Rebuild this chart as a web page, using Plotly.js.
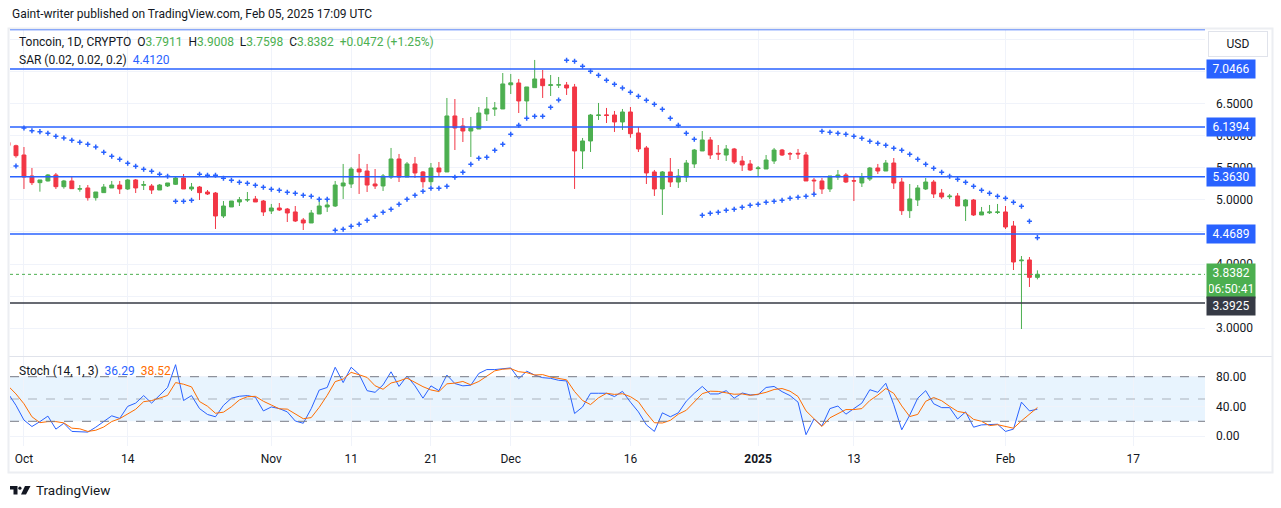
<!DOCTYPE html>
<html><head><meta charset="utf-8">
<script src="https://cdn.plot.ly/plotly-3.0.1.min.js"></script>
<style>html,body{margin:0;padding:0;background:#fff}#chart{width:1281px;height:508px}</style>
</head><body><div id="chart"></div>
<script>
// ---------- DATA ----------
const startDate = '2024-09-29';
const opens = [5.90,5.848,5.703,5.375,5.271,5.297,5.391,5.208,5.297,5.170,5.188,5.036,5.115,5.188,5.234,5.172,5.313,5.230,5.219,5.156,5.219,5.245,5.344,5.172,5.203,5.125,5.109,4.750,4.891,4.969,5.000,5.016,4.984,4.828,4.875,4.859,4.813,4.688,4.641,4.781,4.891,4.906,5.219,5.250,5.484,5.453,5.250,5.219,5.359,5.641,5.359,5.563,5.438,5.286,5.500,5.438,6.313,6.156,6.078,6.109,6.344,6.420,6.422,6.800,6.828,6.547,6.755,6.891,6.790,6.795,6.797,6.766,5.766,5.922,6.320,6.330,6.328,6.219,6.375,6.047,5.813,5.438,5.172,5.438,5.281,5.359,5.563,5.766,5.938,5.730,5.703,5.797,5.609,5.563,5.490,5.484,5.609,5.781,5.725,5.730,5.703,5.310,5.297,5.172,5.359,5.391,5.300,5.266,5.328,5.500,5.453,5.578,5.281,4.833,5.000,5.172,5.281,5.109,5.050,5.063,4.906,5.000,4.766,4.800,4.805,4.813,4.594,4.050,4.063,3.7911];
const highs = [5.95,5.864,5.828,5.500,5.313,5.406,5.422,5.313,5.375,5.234,5.234,5.125,5.250,5.297,5.297,5.328,5.328,5.297,5.250,5.250,5.266,5.359,5.406,5.266,5.219,5.156,5.125,4.984,4.984,5.047,5.125,5.063,5.000,4.938,4.953,4.875,4.906,4.719,4.844,5.016,5.016,5.297,5.563,5.516,5.719,5.563,5.484,5.406,5.813,5.719,5.594,5.672,5.453,5.578,5.594,6.594,6.578,6.281,6.297,6.453,6.609,6.531,6.984,6.969,6.891,6.766,7.188,7.031,6.953,6.922,6.844,6.813,5.969,6.344,6.516,6.438,6.391,6.422,6.453,6.141,5.844,5.469,5.453,5.656,5.484,5.625,5.797,6.078,5.984,5.859,5.859,5.813,5.688,5.625,5.531,5.703,5.813,5.797,5.750,5.797,5.750,5.344,5.344,5.375,5.469,5.422,5.359,5.422,5.516,5.563,5.625,5.656,5.344,5.250,5.234,5.344,5.313,5.172,5.094,5.109,5.016,5.016,4.891,4.922,4.938,4.906,4.672,4.125,4.109,3.9008];
const lows = [5.83,5.661,5.172,5.234,5.130,5.290,5.172,5.177,5.177,5.130,4.990,4.990,5.115,5.188,5.094,5.156,5.109,5.156,5.094,5.156,5.203,5.234,5.172,5.141,5.000,5.078,4.547,4.719,4.891,4.906,4.969,4.969,4.750,4.781,4.828,4.656,4.656,4.531,4.641,4.781,4.813,4.891,5.016,5.188,5.094,5.125,5.172,5.141,5.328,5.281,5.359,5.344,5.192,5.224,5.375,5.438,5.781,5.906,5.672,6.109,6.234,6.313,6.422,6.656,6.359,6.313,6.755,6.594,6.625,6.750,6.641,5.172,5.484,5.750,6.250,6.203,6.063,6.094,5.973,5.750,5.250,5.063,4.766,5.203,5.188,5.281,5.500,5.766,5.641,5.625,5.609,5.563,5.453,5.453,5.375,5.484,5.563,5.688,5.625,5.641,5.297,5.094,5.094,5.125,5.313,5.266,4.984,5.203,5.297,5.406,5.453,5.172,4.766,4.719,4.906,5.156,5.031,5.016,5.016,4.906,4.672,4.750,4.766,4.781,4.781,4.547,3.906,2.984,3.641,3.7598];
const closes = [5.85,5.692,5.359,5.271,5.313,5.391,5.208,5.297,5.177,5.175,5.036,5.125,5.203,5.234,5.172,5.313,5.188,5.240,5.156,5.234,5.266,5.344,5.172,5.203,5.115,5.094,4.750,4.906,4.984,5.005,5.005,4.969,4.813,4.875,4.844,4.797,4.672,4.641,4.797,4.906,4.922,5.234,5.266,5.484,5.438,5.234,5.219,5.375,5.641,5.359,5.563,5.422,5.286,5.500,5.438,6.313,6.125,6.078,6.125,6.359,6.422,6.435,6.813,6.830,6.547,6.766,6.891,6.786,6.800,6.800,6.750,5.766,5.922,6.328,6.328,6.320,6.219,6.375,6.036,5.797,5.422,5.172,5.438,5.281,5.375,5.578,5.781,5.938,5.703,5.719,5.797,5.594,5.547,5.469,5.500,5.625,5.781,5.703,5.720,5.720,5.297,5.300,5.172,5.375,5.391,5.281,5.297,5.359,5.500,5.453,5.578,5.266,4.833,5.016,5.188,5.281,5.094,5.047,5.060,4.906,5.000,4.766,4.813,4.813,4.813,4.578,4.031,4.060,3.7911,3.8382];
const sar = [null,5.531,6.125,6.083,6.068,6.042,5.995,5.969,5.932,5.901,5.870,5.828,5.745,5.682,5.635,5.573,5.526,5.479,5.448,5.401,5.370,4.979,4.979,4.995,5.401,5.385,5.385,5.339,5.307,5.276,5.260,5.229,5.198,5.167,5.151,5.120,5.104,5.073,5.057,5.010,5.010,4.526,4.542,4.589,4.620,4.682,4.745,4.807,4.854,4.932,5.010,5.073,5.135,5.182,5.182,5.214,5.354,5.432,5.557,5.651,5.667,5.776,5.870,6.026,6.167,6.276,6.307,6.307,6.448,6.563,7.183,7.167,7.089,7.011,6.948,6.870,6.808,6.750,6.683,6.620,6.558,6.495,6.417,6.276,6.167,6.042,5.948,4.760,4.792,4.807,4.839,4.854,4.886,4.917,4.932,4.964,4.979,4.995,5.026,5.042,5.057,5.089,6.073,6.057,6.042,6.026,5.995,5.964,5.917,5.886,5.854,5.807,5.776,5.714,5.636,5.557,5.495,5.432,5.370,5.323,5.276,5.214,5.151,5.104,5.057,5.026,4.964,4.901,4.667,4.412];
const stochK = [57.7,41.5,21.7,13.0,19.6,27.0,9.5,17.4,6.4,6.4,5.5,12.1,19.6,27.4,23.9,40.1,44.5,54.6,44.5,54.6,65.5,96.2,48.0,54.6,37.1,29.2,26.1,41.5,51.1,53.7,54.6,52.4,34.0,39.3,37.1,32.7,20.4,17.4,37.1,62.0,65.5,92.7,72.1,92.7,83.1,61.2,59.0,69.0,86.6,66.9,80.9,67.7,51.1,67.7,61.2,82.2,70.8,67.7,68.6,84.4,89.6,89.6,91.0,91.8,77.4,87.4,82.2,78.7,77.8,75.2,74.3,30.5,39.3,57.7,57.7,57.7,53.3,60.3,45.8,32.7,15.2,6.4,31.4,26.1,31.4,47.1,57.7,66.9,56.8,56.8,61.2,51.1,58.1,55.5,55.9,65.5,66.9,59.9,54.6,45.8,2.0,23.1,13.9,37.1,40.6,29.6,37.1,44.5,62.5,59.0,71.2,42.3,8.6,28.3,51.1,61.2,43.6,38.4,38.4,23.1,32.7,12.1,15.2,15.2,16.1,6.4,9.5,45.8,34.0,36.29];
const stochD = [67.7,56.8,43.6,26.1,18.2,19.6,19.6,17.9,10.8,9.9,6.4,8.0,12.4,19.7,23.6,30.5,36.2,46.4,47.9,51.2,54.9,72.1,69.9,66.3,46.6,40.3,30.8,32.3,39.6,48.8,53.1,53.6,47.0,41.9,36.8,36.4,30.1,23.5,25.0,38.8,54.9,73.4,76.8,85.8,82.6,79.0,67.8,63.1,71.5,74.2,78.1,71.8,66.6,62.2,60.0,70.4,71.4,73.6,69.0,73.6,80.9,87.9,90.1,90.8,86.7,85.5,82.3,82.8,79.6,77.2,75.8,60.0,48.0,42.5,51.6,57.7,56.2,57.1,53.1,46.3,31.2,18.1,17.7,21.3,29.6,34.9,45.4,57.2,60.5,60.2,58.3,56.4,56.8,54.9,56.5,59.0,62.8,64.1,60.5,53.4,34.1,23.6,13.0,24.7,30.5,35.8,35.8,37.1,48.0,55.3,64.2,57.5,40.7,26.4,29.3,46.9,52.0,47.7,40.1,33.3,31.4,22.6,20.0,14.2,15.5,12.6,10.7,20.6,29.8,38.52];
const blueLevels = [7.0466, 6.1394, 5.3630, 4.4689];
const supportLevel = 3.3925;
const lastPrice = 3.8382;
const countdown = '06:50:41';
const priceGrid = [3.0,3.5,4.0,4.5,5.0,5.5,6.0,6.5,7.0,7.5];
const priceTickLabels = ['3.0000','','4.0000','','5.0000','5.5000','6.0000','6.5000','',''];
const stochTicks = [0, 40, 80];
const stochBands = [20, 50, 80];
const tickDates = ['2024-10-01','2024-10-14','2024-11-01','2024-11-11','2024-11-21','2024-12-01','2024-12-16','2025-01-01','2025-01-13','2025-02-01','2025-02-17'];
const tickLabels = ['Oct','14','Nov','11','21','Dec','16','<b>2025</b>','13','Feb','17'];
const headerOHLC = {O:'3.7911', H:'3.9008', L:'3.7598', C:'3.8382', chg:'+0.0472 (+1.25%)'};
const sarLast = '4.4120';
const kLast = '36.29', dLast = '38.52';

// ---------- BUILD ----------
function addDays(s, n){const d=new Date(s+'T00:00:00Z'); d.setUTCDate(d.getUTCDate()+n); return d.toISOString().slice(0,10);}
const dates = opens.map((_, i) => addDays(startDate, i));

const W = 1281, H = 508;
const px = x => x / W;
const py = y => (H - y) / H;
const FONT = 'Roboto, "Noto Sans", sans-serif';
const TXT = '#131722';
const BLUE = '#2962ff', GREEN = '#4caf50', RED = '#f23645', ORANGE = '#ff6d00';

const traces = [
  {type:'candlestick', x:dates, open:opens, high:highs, low:lows, close:closes, xaxis:'x', yaxis:'y',
   increasing:{line:{color:GREEN,width:1}, fillcolor:GREEN},
   decreasing:{line:{color:RED,width:1}, fillcolor:RED}, whiskerwidth:0, hoverinfo:'skip'},
  {type:'scatter', mode:'markers', x:dates, y:sar, xaxis:'x', yaxis:'y',
   marker:{symbol:'cross-thin', size:3.6, color:BLUE, line:{color:BLUE, width:1.5}}, hoverinfo:'skip'},
  {type:'scatter', mode:'lines', x:dates, y:stochK, xaxis:'x', yaxis:'y2', line:{color:BLUE, width:1}, hoverinfo:'skip'},
  {type:'scatter', mode:'lines', x:dates, y:stochD, xaxis:'x', yaxis:'y2', line:{color:ORANGE, width:1}, hoverinfo:'skip'}
];

const shapes = [];
shapes.push({type:'rect', xref:'x domain', yref:'y2', x0:0, x1:1, y0:stochBands[0], y1:stochBands[2], fillcolor:'rgba(33,150,243,0.1)', line:{width:0}, layer:'below'});
stochBands.forEach((v,i)=>shapes.push({type:'line', xref:'x domain', yref:'y2', x0:0, x1:1, y0:v, y1:v,
  line:{color: i===1 ? 'rgba(120,123,134,0.55)' : '#787b86', width:1, dash:'dash'}}));
blueLevels.forEach(v=>shapes.push({type:'line', xref:'x domain', yref:'y', x0:0, x1:1, y0:v, y1:v, line:{color:BLUE, width:1.5}}));
shapes.push({type:'line', xref:'x domain', yref:'y', x0:0, x1:1, y0:supportLevel, y1:supportLevel, line:{color:'#363a45', width:1.5}});
shapes.push({type:'line', xref:'x domain', yref:'y', x0:0, x1:1, y0:lastPrice, y1:lastPrice, line:{color:GREEN, width:1, dash:'dot'}});
shapes.push({type:'line', xref:'paper', yref:'paper', x0:px(10), x1:px(1205), y0:py(29.5), y1:py(29.5), line:{color:BLUE, width:1.5}});
shapes.push({type:'line', xref:'paper', yref:'paper', x0:px(9), x1:px(1272), y0:py(356.5), y1:py(356.5), line:{color:'#e0e3eb', width:1}});
shapes.push({type:'rect', xref:'paper', yref:'paper', x0:px(8.5), x1:px(1272.5), y0:py(472.5), y1:py(28.5), line:{color:'#eceef2', width:2}, fillcolor:'rgba(0,0,0,0)'});
shapes.push({type:'path', xref:'paper', yref:'paper', fillcolor:TXT, line:{width:0},
  path:`M ${px(10)} ${py(486)} L ${px(17.5)} ${py(486)} L ${px(17.5)} ${py(494.5)} L ${px(13.5)} ${py(494.5)} L ${px(13.5)} ${py(489.5)} L ${px(10)} ${py(489.5)} Z`});
shapes.push({type:'circle', xref:'paper', yref:'paper', fillcolor:TXT, line:{width:0}, x0:px(18.3), x1:px(21.5), y0:py(489.8), y1:py(486.6)});
shapes.push({type:'path', xref:'paper', yref:'paper', fillcolor:TXT, line:{width:0},
  path:`M ${px(25)} ${py(486)} L ${px(30.5)} ${py(486)} L ${px(26)} ${py(494.5)} L ${px(21)} ${py(494.5)} Z`});

const badge = (v, text, bg, shift) => ({xref:'paper', yref:'y', x:px(1206), y:v, xanchor:'left', yanchor:'middle', yshift:shift||0,
  text:text, showarrow:false, bgcolor:bg, borderpad:2, width:44, align:'center', font:{family:FONT, size:12, color:'#ffffff'}});

const annotations = [
  {xref:'paper', yref:'paper', x:px(10), y:py(14), xanchor:'left', yanchor:'middle', showarrow:false,
   text:'Gaint-writer published on TradingView.com, Feb 05, 2025 17:09 UTC', font:{family:FONT, size:12, color:TXT}},
  {xref:'paper', yref:'paper', x:px(17), y:py(42), xanchor:'left', yanchor:'middle', showarrow:false,
   text:`Toncoin, 1D, CRYPTO  O<span style="color:${GREEN}">${headerOHLC.O}</span>  H<span style="color:${GREEN}">${headerOHLC.H}</span>  L<span style="color:${GREEN}">${headerOHLC.L}</span>  C<span style="color:${GREEN}">${headerOHLC.C}</span>  <span style="color:${GREEN}">${headerOHLC.chg}</span>`,
   font:{family:FONT, size:12, color:TXT}},
  {xref:'paper', yref:'paper', x:px(17), y:py(60), xanchor:'left', yanchor:'middle', showarrow:false,
   text:`SAR (0.02, 0.02, 0.2)  <span style="color:${BLUE}">${sarLast}</span>`, font:{family:FONT, size:12, color:TXT}},
  {xref:'paper', yref:'paper', x:px(17), y:py(371), xanchor:'left', yanchor:'middle', showarrow:false,
   text:`Stoch (14, 1, 3)  <span style="color:${BLUE}">${kLast}</span>  <span style="color:${ORANGE}">${dLast}</span>`, font:{family:FONT, size:12, color:TXT}},
  {xref:'paper', yref:'paper', x:px(1238), y:py(44.5), xanchor:'center', yanchor:'middle', showarrow:false,
   text:'USD', bgcolor:'#ffffff', bordercolor:'#e0e3eb', borderwidth:1, borderpad:4, width:50, height:16, font:{family:FONT, size:12, color:TXT}},
  {xref:'paper', yref:'paper', x:px(34), y:py(490), xanchor:'left', yanchor:'middle', showarrow:false,
   text:'TradingView', font:{family:FONT, size:13.5, color:TXT}}
];
blueLevels.forEach(v=>annotations.push(badge(v, v.toFixed(4), BLUE)));
annotations.push(badge(lastPrice, lastPrice.toFixed(4)+'<br>'+countdown, GREEN, -7));
annotations.push(badge(supportLevel, supportLevel.toFixed(4), '#363a45', -3));

const layout = {
  width:W, height:H, margin:{l:0,r:0,t:0,b:0}, paper_bgcolor:'#ffffff', plot_bgcolor:'#ffffff',
  showlegend:false, font:{family:FONT, size:12, color:TXT}, dragmode:false,
  xaxis:{domain:[px(10), px(1205)], anchor:'y2', type:'date', range:['2024-09-29 06:00','2025-02-26 00:00'],
    rangeslider:{visible:false}, tickvals:tickDates, ticktext:tickLabels, ticks:'', showgrid:true, gridcolor:'#f0f3fa',
    zeroline:false, showline:false, tickfont:{family:FONT, size:12, color:TXT}, ticklabelstandoff:4},
  yaxis:{domain:[py(356), py(30)], anchor:'x', side:'right', range:[2.5625, 7.656], tickvals:priceGrid,
    ticktext:priceTickLabels, showgrid:true, gridcolor:'#f0f3fa', zeroline:false, ticks:'',
    tickfont:{family:FONT, size:12, color:TXT}, ticklabelstandoff:10},
  yaxis2:{domain:[py(446), py(357)], anchor:'x', side:'right', range:[-13.2, 106.5], tickvals:stochTicks,
    ticktext:stochTicks.map(v=>v.toFixed(2)), showgrid:true, gridcolor:'#f0f3fa', zeroline:false, ticks:'',
    tickfont:{family:FONT, size:12, color:TXT}, ticklabelstandoff:10},
  shapes:shapes, annotations:annotations
};

Plotly.newPlot('chart', traces, layout, {staticPlot:true, displayModeBar:false});
</script></body></html>
